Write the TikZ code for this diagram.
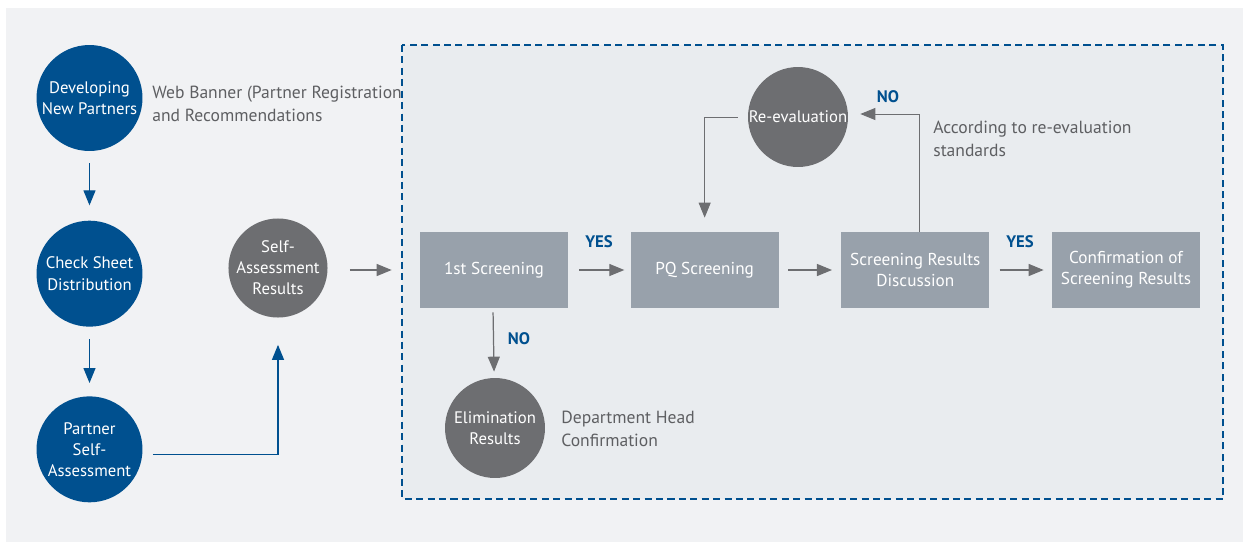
\documentclass[tikz,border=0pt]{standalone}
\usepackage{fontspec}
\setmainfont{PT Sans}
\usetikzlibrary{arrows.meta, positioning}
\definecolor{navy}{HTML}{00508F}
\definecolor{slate}{HTML}{6D6E71}
\definecolor{steel}{HTML}{98A1AB}
\definecolor{panel}{HTML}{F1F2F4}
\definecolor{inner}{HTML}{E9ECEF}
\definecolor{notegray}{HTML}{5E5F62}

\begin{document}
\begin{tikzpicture}[x=0.02cm, y=-0.02cm,
    node distance=1.38cm and 1.24cm,
    bluecirc/.style={circle, fill=navy, text=white, minimum size=2.12cm, inner sep=0pt, align=center, font=\fontsize{9.5}{12}\selectfont},
    graycirc/.style={circle, fill=slate, text=white, minimum size=2cm, inner sep=0pt, align=center, font=\fontsize{9.5}{12}\selectfont},
    stage/.style={fill=steel, text=white, minimum width=2.96cm, minimum height=1.52cm, inner sep=0pt, align=center, font=\fontsize{9.8}{12}\selectfont},
    note/.style={text=notegray, align=left, inner sep=0pt, anchor=west, font=\fontsize{10}{13}\selectfont},
    yn/.style={text=navy, inner sep=0pt, font=\bfseries\fontsize{9.5}{11}\selectfont},
    arr/.style={-{Triangle[length=0.3cm, width=0.24cm]}, slate, line width=0.7pt},
    barr/.style={arr, navy}
]
\useasboundingbox (0,0) rectangle (1249,542);
\fill[white] (0,0) rectangle (1249,542);
\fill[panel] (6,8) rectangle (1243,542);

\node[note] (banner) at (152,104) {Web Banner (Partner Registration\\and Recommendations};
\draw[navy, line width=0.6pt, fill=inner, dash pattern=on 4pt off 2.5pt] (402,45) rectangle (1223,499);

\node[bluecirc] (dev) at (89.5,98) {Developing\\New Partners};
\node[bluecirc, below=of dev] (check) {Check Sheet\\Distribution};
\node[bluecirc, below=of check] (partner) {Partner\\Self-\\Assessment};
\node[graycirc, minimum size=1.92cm] (selfres) at (278,268) {Self-\\Assessment\\Results};

\node[stage] (first) at (494,270) {1st Screening};
\node[stage, right=of first] (pq) {PQ Screening};
\node[stage, right=of pq] (disc) {Screening Results\\Discussion};
\node[stage, right=of disc] (conf) {Confirmation of\\Screening Results};
\node[graycirc] (elim) at (495,428) {Elimination\\Results};
\node[graycirc] (reeval) at (798,117) {Re-evaluation};

\node[note] (dept) at (561,429) {Department Head\\Confirmation};
\node[note] (std) at (933,139) {According to re-evaluation\\standards};

\node[yn] (yes1) at (599,242) {YES};
\node[yn] (yes2) at (1020,242) {YES};
\node[yn] (no1) at (519,339) {NO};
\node[yn] (no2) at (888,97) {NO};

\draw[barr, shorten <=0.24cm, shorten >=0.3cm] (dev) -- (check);
\draw[barr, shorten <=0.24cm, shorten >=0.26cm] (check) -- (partner);
\draw[barr] ([shift={(10,5)}]partner.east) -| ([shift={(0,27)}]selfres.south);
\draw[arr, shorten <=0.44cm, shorten >=0.56cm] (selfres.east |- first.west) -- (first.west);
\draw[arr, shorten <=0.22cm, shorten >=0.12cm] (first) -- (pq);
\draw[arr, shorten <=0.18cm, shorten >=0.18cm] (pq) -- (disc);
\draw[arr, shorten <=0.2cm, shorten >=0.16cm] (disc) -- (conf);
\draw[arr, shorten <=0.08cm, shorten >=0.12cm] ([xshift=-0.02cm]first.south) -- (elim);
\draw[arr, line width=0.5pt, shorten >=0.24cm] ([xshift=0.08cm]disc.north) |- ([yshift=0.06cm]reeval.east);
\draw[arr, line width=0.5pt, shorten <=0.2cm, shorten >=0.28cm] (reeval.west) -| (pq.north);
\end{tikzpicture}
\end{document}
